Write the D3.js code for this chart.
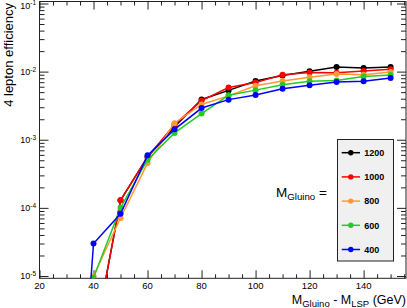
<!DOCTYPE html>
<html>
<head>
<meta charset="utf-8">
<script src="https://cdn.jsdelivr.net/npm/d3@7"></script>
<style>
  html, body { margin: 0; padding: 0; background: #fff; }
  svg { display: block; font-family: "Liberation Sans", Arial, Helvetica, sans-serif; }
</style>
</head>
<body>
<div id="chart"></div>
<script>
/* 4-lepton efficiency vs mass splitting, one curve per gluino mass */
(function () {
  "use strict";

  var massDiff = [30, 40, 50, 60, 70, 80, 90, 100, 110, 120, 130, 140, 150];

  var eff1200 = [1e-9, 1.0e-6, 1.29e-4, 5.6e-4, 1.55e-3, 3.9e-3, 5.3e-3, 7.3e-3, 8.8e-3, 1.01e-2, 1.17e-2, 1.13e-2, 1.17e-2];
  var eff1000 = [1e-9, 1.0e-6, 1.29e-4, 5.6e-4, 1.67e-3, 3.75e-3, 5.85e-3, 6.9e-3, 9.0e-3, 9.7e-3, 9.6e-3, 1.02e-2, 1.08e-2];
  var eff800 = [1e-9, 1.0e-5, 7.1e-5, 4.55e-4, 1.75e-3, 3.3e-3, 4.4e-3, 6.2e-3, 7.3e-3, 8.3e-3, 9.2e-3, 9.0e-3, 9.9e-3];
  var eff600 = [1e-9, 9.4e-6, 1.0e-4, 5.1e-4, 1.26e-3, 2.42e-3, 4.5e-3, 5.35e-3, 6.4e-3, 7.2e-3, 7.4e-3, 8.5e-3, 8.9e-3];
  var eff400 = [1e-10, 3.0e-5, 8.2e-5, 5.9e-4, 1.42e-3, 2.92e-3, 3.88e-3, 4.54e-3, 5.6e-3, 6.3e-3, 7.05e-3, 7.2e-3, 8.05e-3];

  var gluinoMasses = ["1200", "1000", "800", "600", "400"];
  var seriesColors = ["#000000", "#ff0000", "#ff9933", "#22cc22", "#0000ff"];
  var seriesValues = [eff1200, eff1000, eff800, eff600, eff400];

  var xTicks = [20, 40, 60, 80, 100, 120, 140];
  var yExponents = [-5, -4, -3, -2, -1];

  var W = 407, H = 308;
  var left = 39.5, right = 406, top = 1.5, bottom = 278.3;

  var svg = d3.select("#chart").append("svg")
    .attr("width", W)
    .attr("height", H);

  var x = d3.scaleLinear().domain([20, 155.7]).range([left, right]);
  var y = d3.scaleLog().domain([9.25e-6, 0.107]).range([bottom, top]);

  svg.append("defs").append("clipPath").attr("id", "plot-clip")
    .append("rect")
    .attr("x", left).attr("y", top)
    .attr("width", right - left).attr("height", bottom - top);

  // Axes: d3 axes for ticks, mirrored on top/right like a ROOT frame.
  var minorX = d3.range(20, 156, 5).filter(function (v) { return xTicks.indexOf(v) < 0; });
  var minorY = [];
  yExponents.concat([-6]).forEach(function (e) {
    for (var m = 2; m <= 9; m++) minorY.push(m * Math.pow(10, e));
  });
  minorY = minorY.filter(function (v) { return v > y.domain()[0] && v < y.domain()[1]; });

  function tickAxis(axisFn, scale, values, size, translate) {
    var g = svg.append("g")
      .attr("transform", translate)
      .call(axisFn(scale).tickValues(values).tickSize(size).tickFormat(""));
    g.select(".domain").remove();
    g.selectAll("line").attr("stroke", "#222").attr("stroke-width", 1);
    return g;
  }

  tickAxis(d3.axisTop, x, xTicks, 8, "translate(0," + bottom + ")");
  tickAxis(d3.axisTop, x, minorX, 4, "translate(0," + bottom + ")");
  tickAxis(d3.axisBottom, x, xTicks, 8, "translate(0," + top + ")");
  tickAxis(d3.axisBottom, x, minorX, 4, "translate(0," + top + ")");

  var yMajor = yExponents.map(function (e) { return Math.pow(10, e); });
  tickAxis(d3.axisRight, y, yMajor, 9, "translate(" + left + ",0)");
  tickAxis(d3.axisRight, y, minorY, 5, "translate(" + left + ",0)");
  tickAxis(d3.axisLeft, y, yMajor, 9, "translate(" + right + ",0)");
  tickAxis(d3.axisLeft, y, minorY, 5, "translate(" + right + ",0)");

  svg.append("rect")
    .attr("x", left).attr("y", top)
    .attr("width", right - left).attr("height", bottom - top)
    .attr("fill", "none")
    .attr("stroke", "#222")
    .attr("stroke-width", 1);

  // Tick labels
  svg.append("g").selectAll("text")
    .data(xTicks)
    .join("text")
    .attr("x", function (d) { return x(d); })
    .attr("y", 288.5)
    .attr("text-anchor", "middle")
    .attr("font-size", 9.5)
    .text(function (d) { return d; });

  // top label would poke out of the picture, so keep its baseline low enough
  var yLab = svg.append("g").selectAll("text")
    .data(yExponents)
    .join("text")
    .attr("x", 36)
    .attr("y", function (d) { return Math.max(y(Math.pow(10, d)) + 3.5, 8.5); })
    .attr("text-anchor", "end")
    .attr("font-size", 9);
  yLab.append("tspan").text("10");
  yLab.append("tspan")
    .attr("dy", -3.5)
    .attr("font-size", 6.5)
    .text(function (d) { return "-" + (-d); });

  // Axis titles
  svg.append("text")
    .attr("transform", "translate(13,3) rotate(-90)")
    .attr("text-anchor", "end")
    .attr("font-size", 13)
    .text("4 lepton efficiency");

  var xt = svg.append("text")
    .attr("x", 406)
    .attr("y", 304)
    .attr("text-anchor", "end")
    .attr("font-size", 12.5);
  xt.append("tspan").text("M");
  xt.append("tspan").attr("dy", 3).attr("font-size", 9.5).text("Gluino");
  xt.append("tspan").attr("dy", -3).text(" - M");
  xt.append("tspan").attr("dy", 3).attr("font-size", 9.5).text("LSP");
  xt.append("tspan").attr("dy", -3).text(" (GeV)");

  // Curves
  var plot = svg.append("g").attr("clip-path", "url(#plot-clip)");
  var line = d3.line()
    .x(function (d) { return x(d[0]); })
    .y(function (d) { return y(d[1]); });

  seriesValues.forEach(function (vals, i) {
    var pts = massDiff.map(function (m, k) { return [m, vals[k]]; });
    plot.append("path")
      .datum(pts)
      .attr("d", line)
      .attr("fill", "none")
      .attr("stroke", seriesColors[i])
      .attr("stroke-width", 1.5);
    plot.append("g").selectAll("circle")
      .data(pts)
      .join("circle")
      .attr("cx", function (d) { return x(d[0]); })
      .attr("cy", function (d) { return y(d[1]); })
      .attr("r", 3)
      .attr("fill", seriesColors[i]);
  });

  // Legend
  var lg = svg.append("g");
  lg.append("rect")
    .attr("x", 337.5).attr("y", 139.5)
    .attr("width", 56).attr("height", 121.5)
    .attr("fill", "#f0f0f0")
    .attr("stroke", "#222")
    .attr("stroke-width", 1);

  var entry = lg.selectAll("g.entry")
    .data(gluinoMasses)
    .join("g")
    .attr("class", "entry")
    .attr("transform", function (d, i) { return "translate(0," + (152.7 + i * 24.2) + ")"; });
  entry.append("line")
    .attr("x1", 341.7).attr("x2", 360)
    .attr("stroke", function (d, i) { return seriesColors[i]; })
    .attr("stroke-width", 1.5);
  entry.append("circle")
    .attr("cx", 350.8)
    .attr("r", 2.7)
    .attr("fill", function (d, i) { return seriesColors[i]; });
  entry.append("text")
    .attr("x", 364.3)
    .attr("y", 3.3)
    .attr("font-size", 9)
    .attr("font-weight", "bold")
    .text(function (d) { return d; });

  var mg = svg.append("text")
    .attr("x", 276)
    .attr("y", 196.5)
    .attr("font-size", 13.5);
  mg.append("tspan").text("M");
  mg.append("tspan").attr("dy", 3).attr("font-size", 9.7).text("Gluino");
  mg.append("tspan").attr("dy", -3).text(" =");
})();
</script>
</body>
</html>
